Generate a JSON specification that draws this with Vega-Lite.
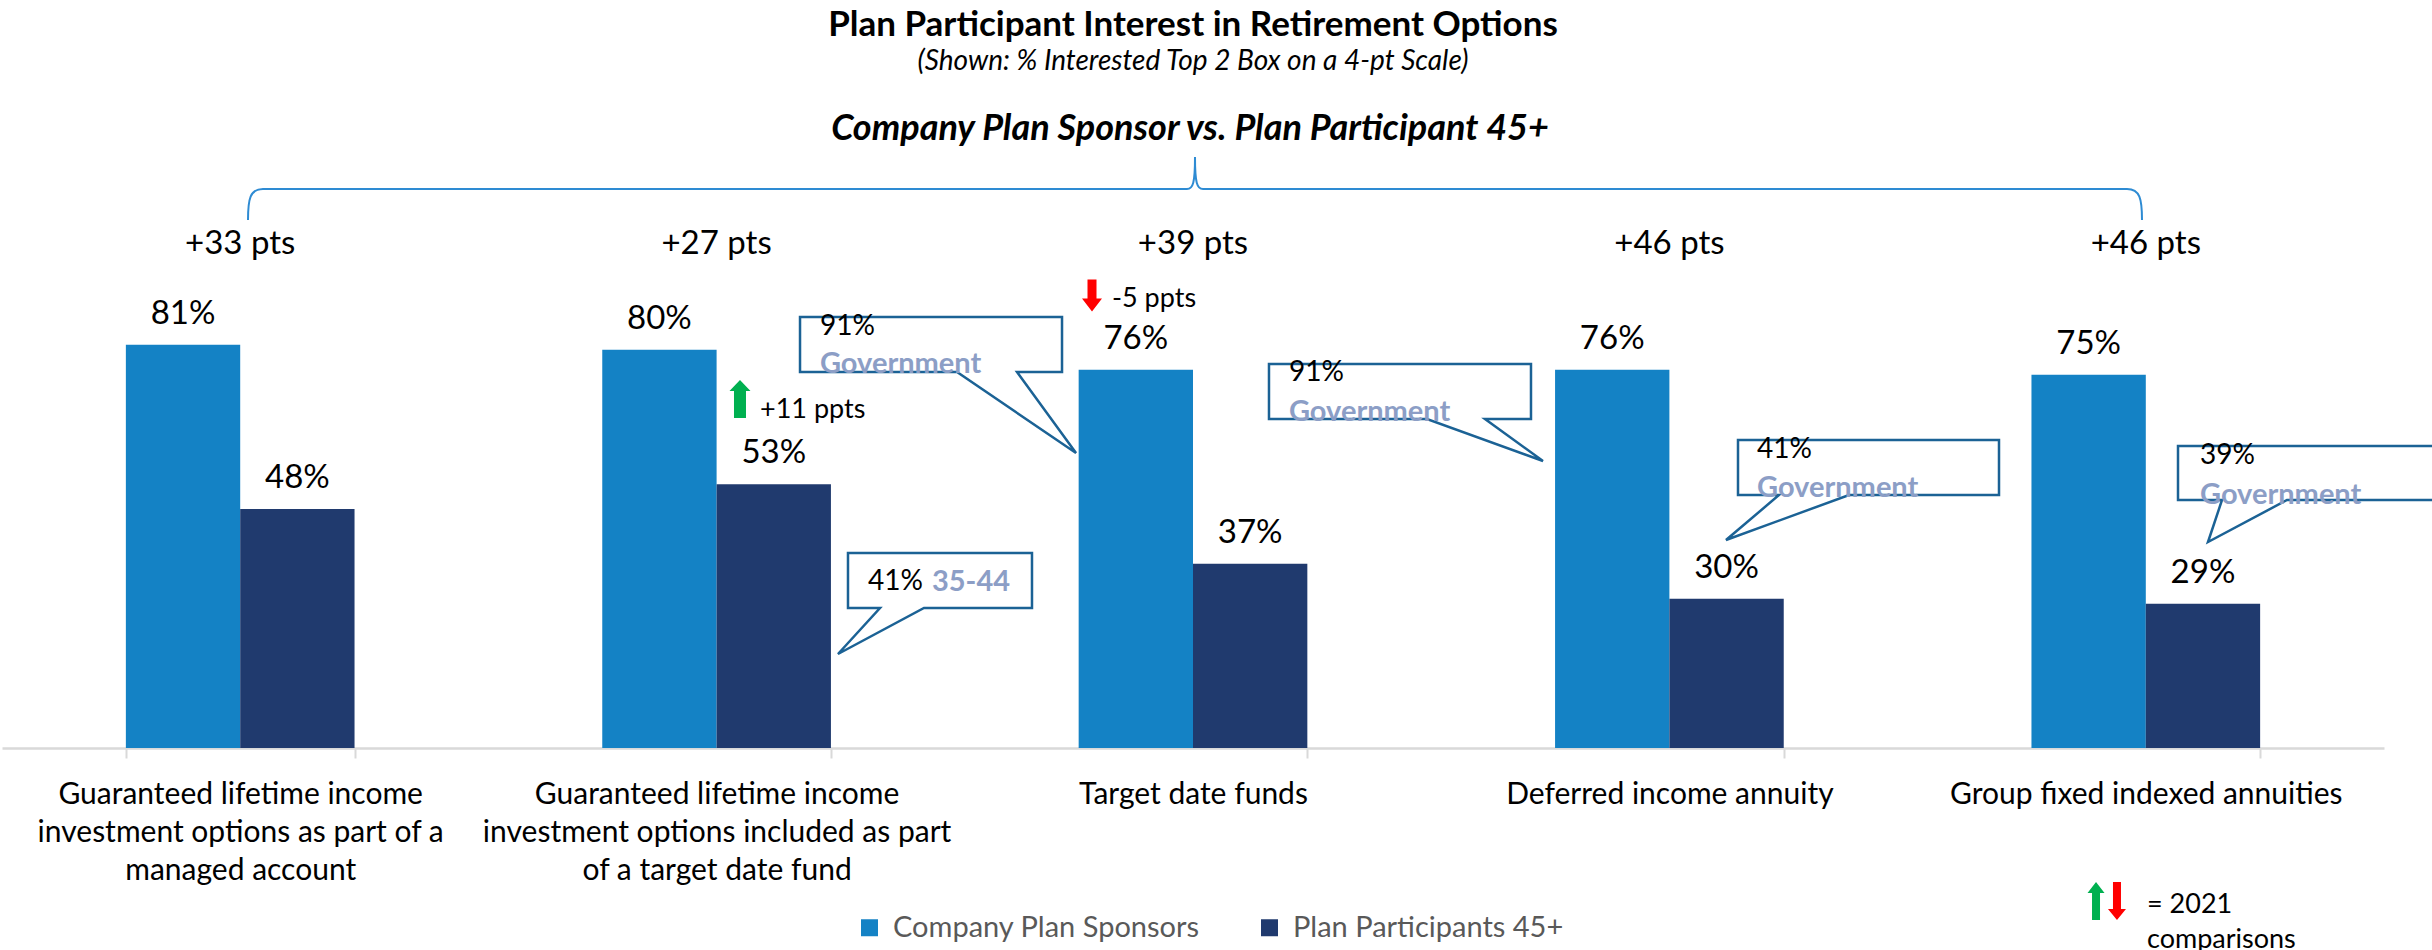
{
  "$schema": "https://vega.github.io/schema/vega-lite/v6.json",
  "width": 2382,
  "height": 647,
  "autosize": {"type": "none"},
  "padding": {"left": 2, "top": 101, "right": 48, "bottom": 202},
  "title": {
    "text": "Plan Participant Interest in Retirement Options",
    "subtitle": "(Shown: % Interested Top 2 Box on a 4-pt Scale)",
    "anchor": "middle",
    "font": "Lato",
    "fontSize": 35,
    "fontWeight": "bold",
    "color": "#000000",
    "subtitleFont": "Lato",
    "subtitleFontSize": 28,
    "subtitleFontStyle": "italic",
    "subtitleColor": "#000000",
    "subtitlePadding": 5,
    "offset": 25
  },
  "datasets": {
    "bars": [
      {"category": "Guaranteed lifetime income investment options as part of a managed account", "series": "Company Plan Sponsors", "pct": 0.81},
      {"category": "Guaranteed lifetime income investment options as part of a managed account", "series": "Plan Participants 45+", "pct": 0.48},
      {"category": "Guaranteed lifetime income investment options included as part of a target date fund", "series": "Company Plan Sponsors", "pct": 0.80},
      {"category": "Guaranteed lifetime income investment options included as part of a target date fund", "series": "Plan Participants 45+", "pct": 0.53},
      {"category": "Target date funds", "series": "Company Plan Sponsors", "pct": 0.76},
      {"category": "Target date funds", "series": "Plan Participants 45+", "pct": 0.37},
      {"category": "Deferred income annuity", "series": "Company Plan Sponsors", "pct": 0.76},
      {"category": "Deferred income annuity", "series": "Plan Participants 45+", "pct": 0.30},
      {"category": "Group fixed indexed annuities", "series": "Company Plan Sponsors", "pct": 0.75},
      {"category": "Group fixed indexed annuities", "series": "Plan Participants 45+", "pct": 0.29}
    ],
    "gaps": [
      {"category": "Guaranteed lifetime income investment options as part of a managed account", "gap": "+33 pts"},
      {"category": "Guaranteed lifetime income investment options included as part of a target date fund", "gap": "+27 pts"},
      {"category": "Target date funds", "gap": "+39 pts"},
      {"category": "Deferred income annuity", "gap": "+46 pts"},
      {"category": "Group fixed indexed annuities", "gap": "+46 pts"}
    ]
  },
  "config": {
    "font": "Lato",
    "view": {"stroke": null},
    "axis": {"grid": false},
    "axisY": {"disable": true},
    "axisQuantitative": {"disable": true}
  },
  "resolve": {"scale": {"x": "independent"}},
  "layer": [
    {
      "layer": [
        {
          "data": {"name": "bars"},
          "mark": {"type": "bar"},
          "encoding": {
            "x": {
              "field": "category",
              "type": "nominal",
              "scale": {
                "domain": [
                  "Guaranteed lifetime income investment options as part of a managed account",
                  "Guaranteed lifetime income investment options included as part of a target date fund",
                  "Target date funds",
                  "Deferred income annuity",
                  "Group fixed indexed annuities"
                ],
                "paddingInner": 0.52,
                "paddingOuter": 0.26
              },
              "axis": {
                "title": null,
                "labelAngle": 0,
                "labelFont": "Lato",
                "labelFontSize": 30,
                "labelColor": "#000000",
                "labelLineHeight": 38,
                "labelPadding": 21,
                "labelLimit": 1000,
                "labelOverlap": false,
                "labelBound": false,
                "domainColor": "#D9D9D9",
                "domainWidth": 2.5,
                "tickColor": "#D9D9D9",
                "tickWidth": 2,
                "tickSize": 10,
                "tickBand": "extent",
                "labelExpr": "datum.value == 'Guaranteed lifetime income investment options as part of a managed account' ? ['Guaranteed lifetime income', 'investment options as part of a', 'managed account'] : datum.value == 'Guaranteed lifetime income investment options included as part of a target date fund' ? ['Guaranteed lifetime income', 'investment options included as part', 'of a target date fund'] : datum.value"
              }
            },
            "xOffset": {
              "field": "series",
              "type": "nominal",
              "scale": {"domain": ["Company Plan Sponsors", "Plan Participants 45+"], "paddingInner": 0, "paddingOuter": 0}
            },
            "y": {"field": "pct", "type": "quantitative", "scale": {"domain": [0, 1.3], "nice": false}, "axis": null},
            "color": {
              "field": "series",
              "type": "nominal",
              "scale": {"domain": ["Company Plan Sponsors", "Plan Participants 45+"], "range": ["#1482C5", "#203A6E"]},
              "legend": {
                "orient": "none",
                "legendX": 853,
                "legendY": 812,
                "direction": "horizontal",
                "title": null,
                "labelFont": "Lato",
                "labelFontSize": 29,
                "labelColor": "#595959",
                "labelLimit": 600,
                "symbolType": "square",
                "symbolSize": 289,
                "symbolStrokeWidth": 0,
                "symbolOpacity": 1,
                "columnPadding": 55,
                "labelOffset": 9,
                "padding": 0
              }
            }
          }
        },
        {
          "data": {"name": "bars"},
          "mark": {"type": "text", "fontSize": 33, "baseline": "middle", "dy": -31, "color": "#000000"},
          "encoding": {
            "x": {"field": "category", "type": "nominal"},
            "xOffset": {"field": "series", "type": "nominal"},
            "y": {"field": "pct", "type": "quantitative", "scale": {"domain": [0, 1.3], "nice": false}},
            "text": {"field": "pct", "type": "quantitative", "format": ".0%"}
          }
        },
        {
          "data": {"name": "gaps"},
          "mark": {"type": "text", "fontSize": 33, "baseline": "middle", "color": "#000000"},
          "encoding": {
            "x": {"field": "category", "type": "nominal"},
            "y": {"datum": 1.013, "type": "quantitative", "scale": {"domain": [0, 1.3], "nice": false}},
            "text": {"field": "gap"}
          }
        }
      ]
    },
    {
      "layer": [
        {
          "data": {"values": [{"heading": "Company Plan Sponsor vs. Plan Participant 45+"}]},
          "mark": {"type": "text", "fontSize": 36, "fontWeight": "bold", "fontStyle": "italic", "color": "#000000"},
          "encoding": {
            "x": {"datum": 2.4937, "type": "quantitative", "scale": {"domain": [0, 5], "nice": false, "zero": false}},
            "y": {"datum": 1.2437, "type": "quantitative", "scale": {"domain": [0, 1.3], "nice": false}},
            "text": {"field": "heading"}
          }
        },
        {
          "data": {"values": [{"brace": "Company Plan Sponsor vs. Plan Participant 45+"}]},
          "mark": {"type": "point", "shape": "M-947,31 C-947,10 -945,0 -932,0 L-8,0 C-2,0 0,-6 0,-32 C0,-6 2,0 8,0 L932,0 C945,0 947,10 947,31", "size": 4, "filled": false, "stroke": "#2E8BD3", "strokeWidth": 2, "opacity": 1},
          "encoding": {
            "x": {"datum": 2.5042, "type": "quantitative", "scale": {"domain": [0, 5], "nice": false, "zero": false}},
            "y": {"datum": 1.1232, "type": "quantitative", "scale": {"domain": [0, 1.3], "nice": false}}
          }
        },
        {
          "data": {"values": [{"pct": "41%", "segment": "35-44"}]},
          "layer": [
            {
              "mark": {"type": "point", "shape": "M0,0 H184 V55 H76 L-10,101 L32,55 H0 Z", "size": 4, "filled": true, "fill": "#FFFFFF", "stroke": "#1B6295", "strokeWidth": 2.5, "opacity": 1},
              "encoding": {
                "x": {"datum": 1.7758, "type": "quantitative", "scale": {"domain": [0, 5], "nice": false, "zero": false}},
                "y": {"datum": 0.3918, "type": "quantitative", "scale": {"domain": [0, 1.3], "nice": false}}
              }
            },
            {
              "mark": {"type": "text", "align": "left", "fontSize": 28, "color": "#000000"},
              "encoding": {
                "x": {"datum": 1.8178, "type": "quantitative", "scale": {"domain": [0, 5], "nice": false, "zero": false}},
                "y": {"datum": 0.3335, "type": "quantitative", "scale": {"domain": [0, 1.3], "nice": false}},
                "text": {"field": "pct"}
              }
            },
            {
              "mark": {"type": "text", "align": "left", "fontSize": 29, "fontWeight": "bold", "color": "#8C9EC6"},
              "encoding": {
                "x": {"datum": 1.9521, "type": "quantitative", "scale": {"domain": [0, 5], "nice": false, "zero": false}},
                "y": {"datum": 0.3335, "type": "quantitative", "scale": {"domain": [0, 1.3], "nice": false}},
                "text": {"field": "segment"}
              }
            }
          ]
        },
        {
          "data": {"values": [{"pct": "91%", "segment": "Government"}]},
          "layer": [
            {
              "mark": {"type": "point", "shape": "M0,0 H262 V55 H217 L276,136 L157,55 H0 Z", "size": 4, "filled": true, "fill": "#FFFFFF", "stroke": "#1B6295", "strokeWidth": 2.5, "opacity": 1},
              "encoding": {
                "x": {"datum": 1.6751, "type": "quantitative", "scale": {"domain": [0, 5], "nice": false, "zero": false}},
                "y": {"datum": 0.866, "type": "quantitative", "scale": {"domain": [0, 1.3], "nice": false}}
              }
            },
            {
              "mark": {"type": "text", "align": "left", "fontSize": 28, "color": "#000000"},
              "encoding": {
                "x": {"datum": 1.717, "type": "quantitative", "scale": {"domain": [0, 5], "nice": false, "zero": false}},
                "y": {"datum": 0.8459, "type": "quantitative", "scale": {"domain": [0, 1.3], "nice": false}},
                "text": {"field": "pct"}
              }
            },
            {
              "mark": {"type": "text", "align": "left", "fontSize": 29, "fontWeight": "bold", "color": "#8C9EC6"},
              "encoding": {
                "x": {"datum": 1.717, "type": "quantitative", "scale": {"domain": [0, 5], "nice": false, "zero": false}},
                "y": {"datum": 0.7715, "type": "quantitative", "scale": {"domain": [0, 1.3], "nice": false}},
                "text": {"field": "segment"}
              }
            }
          ]
        },
        {
          "data": {"values": [{"pct": "91%", "segment": "Government"}]},
          "layer": [
            {
              "mark": {"type": "point", "shape": "M0,0 H262 V55 H216 L274,97 L158,55 H0 Z", "size": 4, "filled": true, "fill": "#FFFFFF", "stroke": "#1B6295", "strokeWidth": 2.5, "opacity": 1},
              "encoding": {
                "x": {"datum": 2.6595, "type": "quantitative", "scale": {"domain": [0, 5], "nice": false, "zero": false}},
                "y": {"datum": 0.7715, "type": "quantitative", "scale": {"domain": [0, 1.3], "nice": false}}
              }
            },
            {
              "mark": {"type": "text", "align": "left", "fontSize": 28, "color": "#000000"},
              "encoding": {
                "x": {"datum": 2.7015, "type": "quantitative", "scale": {"domain": [0, 5], "nice": false, "zero": false}},
                "y": {"datum": 0.7535, "type": "quantitative", "scale": {"domain": [0, 1.3], "nice": false}},
                "text": {"field": "pct"}
              }
            },
            {
              "mark": {"type": "text", "align": "left", "fontSize": 29, "fontWeight": "bold", "color": "#8C9EC6"},
              "encoding": {
                "x": {"datum": 2.7015, "type": "quantitative", "scale": {"domain": [0, 5], "nice": false, "zero": false}},
                "y": {"datum": 0.6751, "type": "quantitative", "scale": {"domain": [0, 1.3], "nice": false}},
                "text": {"field": "segment"}
              }
            }
          ]
        },
        {
          "data": {"values": [{"pct": "41%", "segment": "Government"}]},
          "layer": [
            {
              "mark": {"type": "point", "shape": "M0,0 H261 V55 H111 L-12,100 L41,55 H0 Z", "size": 4, "filled": true, "fill": "#FFFFFF", "stroke": "#1B6295", "strokeWidth": 2.5, "opacity": 1},
              "encoding": {
                "x": {"datum": 3.644, "type": "quantitative", "scale": {"domain": [0, 5], "nice": false, "zero": false}},
                "y": {"datum": 0.6188, "type": "quantitative", "scale": {"domain": [0, 1.3], "nice": false}}
              }
            },
            {
              "mark": {"type": "text", "align": "left", "fontSize": 28, "color": "#000000"},
              "encoding": {
                "x": {"datum": 3.6839, "type": "quantitative", "scale": {"domain": [0, 5], "nice": false, "zero": false}},
                "y": {"datum": 0.5988, "type": "quantitative", "scale": {"domain": [0, 1.3], "nice": false}},
                "text": {"field": "pct"}
              }
            },
            {
              "mark": {"type": "text", "align": "left", "fontSize": 29, "fontWeight": "bold", "color": "#8C9EC6"},
              "encoding": {
                "x": {"datum": 3.6839, "type": "quantitative", "scale": {"domain": [0, 5], "nice": false, "zero": false}},
                "y": {"datum": 0.5224, "type": "quantitative", "scale": {"domain": [0, 1.3], "nice": false}},
                "text": {"field": "segment"}
              }
            }
          ]
        },
        {
          "data": {"values": [{"pct": "39%", "segment": "Government"}]},
          "layer": [
            {
              "mark": {"type": "point", "shape": "M0,0 H270 V54 H109 L30,96 L44,54 H0 Z", "size": 4, "filled": true, "fill": "#FFFFFF", "stroke": "#1B6295", "strokeWidth": 2.5, "opacity": 1},
              "encoding": {
                "x": {"datum": 4.5676, "type": "quantitative", "scale": {"domain": [0, 5], "nice": false, "zero": false}},
                "y": {"datum": 0.6068, "type": "quantitative", "scale": {"domain": [0, 1.3], "nice": false}}
              }
            },
            {
              "mark": {"type": "text", "align": "left", "fontSize": 28, "color": "#000000"},
              "encoding": {
                "x": {"datum": 4.6138, "type": "quantitative", "scale": {"domain": [0, 5], "nice": false, "zero": false}},
                "y": {"datum": 0.5867, "type": "quantitative", "scale": {"domain": [0, 1.3], "nice": false}},
                "text": {"field": "pct"}
              }
            },
            {
              "mark": {"type": "text", "align": "left", "fontSize": 29, "fontWeight": "bold", "color": "#8C9EC6"},
              "encoding": {
                "x": {"datum": 4.6138, "type": "quantitative", "scale": {"domain": [0, 5], "nice": false, "zero": false}},
                "y": {"datum": 0.5083, "type": "quantitative", "scale": {"domain": [0, 1.3], "nice": false}},
                "text": {"field": "segment"}
              }
            }
          ]
        },
        {
          "data": {"values": [{"change": "+11 ppts"}]},
          "layer": [
            {
              "mark": {"type": "point", "shape": "M-6,19 L6,19 L6,-8 L10.5,-8 L0,-19 L-10.5,-8 L-6,-8 Z", "size": 4, "filled": true, "fill": "#00B050", "strokeWidth": 0, "opacity": 1},
              "encoding": {
                "x": {"datum": 1.5491, "type": "quantitative", "scale": {"domain": [0, 5], "nice": false, "zero": false}},
                "y": {"datum": 0.7012, "type": "quantitative", "scale": {"domain": [0, 1.3], "nice": false}}
              }
            },
            {
              "mark": {"type": "text", "align": "left", "fontSize": 27, "color": "#000000"},
              "encoding": {
                "x": {"datum": 1.5911, "type": "quantitative", "scale": {"domain": [0, 5], "nice": false, "zero": false}},
                "y": {"datum": 0.6791, "type": "quantitative", "scale": {"domain": [0, 1.3], "nice": false}},
                "text": {"field": "change"}
              }
            }
          ]
        },
        {
          "data": {"values": [{"change": "-5 ppts"}]},
          "layer": [
            {
              "mark": {"type": "point", "shape": "M-4.5,-16 L4.5,-16 L4.5,3 L10,3 L0,16 L-10,3 L-4.5,3 Z", "size": 4, "filled": true, "fill": "#FF0000", "strokeWidth": 0, "opacity": 1},
              "encoding": {
                "x": {"datum": 2.288, "type": "quantitative", "scale": {"domain": [0, 5], "nice": false, "zero": false}},
                "y": {"datum": 0.9092, "type": "quantitative", "scale": {"domain": [0, 1.3], "nice": false}}
              }
            },
            {
              "mark": {"type": "text", "align": "left", "fontSize": 27, "color": "#000000"},
              "encoding": {
                "x": {"datum": 2.33, "type": "quantitative", "scale": {"domain": [0, 5], "nice": false, "zero": false}},
                "y": {"datum": 0.9021, "type": "quantitative", "scale": {"domain": [0, 1.3], "nice": false}},
                "text": {"field": "change"}
              }
            }
          ]
        },
        {
          "data": {"values": [{"note": "= 2021", "note2": "comparisons"}]},
          "layer": [
            {
              "mark": {"type": "point", "shape": "M-4,19 L4,19 L4,-8 L8.5,-8 L0,-19 L-8.5,-8 L-4,-8 Z", "size": 4, "filled": true, "fill": "#00B050", "strokeWidth": 0, "opacity": 1},
              "encoding": {
                "x": {"datum": 4.3955, "type": "quantitative", "scale": {"domain": [0, 5], "nice": false, "zero": false}},
                "y": {"datum": -0.3074, "type": "quantitative", "scale": {"domain": [0, 1.3], "nice": false}}
              }
            },
            {
              "mark": {"type": "point", "shape": "M-4,-19 L4,-19 L4,8 L9,8 L0,19 L-9,8 L-4,8 Z", "size": 4, "filled": true, "fill": "#FF0000", "strokeWidth": 0, "opacity": 1},
              "encoding": {
                "x": {"datum": 4.4395, "type": "quantitative", "scale": {"domain": [0, 5], "nice": false, "zero": false}},
                "y": {"datum": -0.3074, "type": "quantitative", "scale": {"domain": [0, 1.3], "nice": false}}
              }
            },
            {
              "mark": {"type": "text", "align": "left", "fontSize": 27, "color": "#000000"},
              "encoding": {
                "x": {"datum": 4.5025, "type": "quantitative", "scale": {"domain": [0, 5], "nice": false, "zero": false}},
                "y": {"datum": -0.3155, "type": "quantitative", "scale": {"domain": [0, 1.3], "nice": false}},
                "text": {"field": "note"}
              }
            },
            {
              "mark": {"type": "text", "align": "left", "fontSize": 27, "color": "#000000"},
              "encoding": {
                "x": {"datum": 4.5025, "type": "quantitative", "scale": {"domain": [0, 5], "nice": false, "zero": false}},
                "y": {"datum": -0.3858, "type": "quantitative", "scale": {"domain": [0, 1.3], "nice": false}},
                "text": {"field": "note2"}
              }
            }
          ]
        }
      ]
    }
  ]
}
